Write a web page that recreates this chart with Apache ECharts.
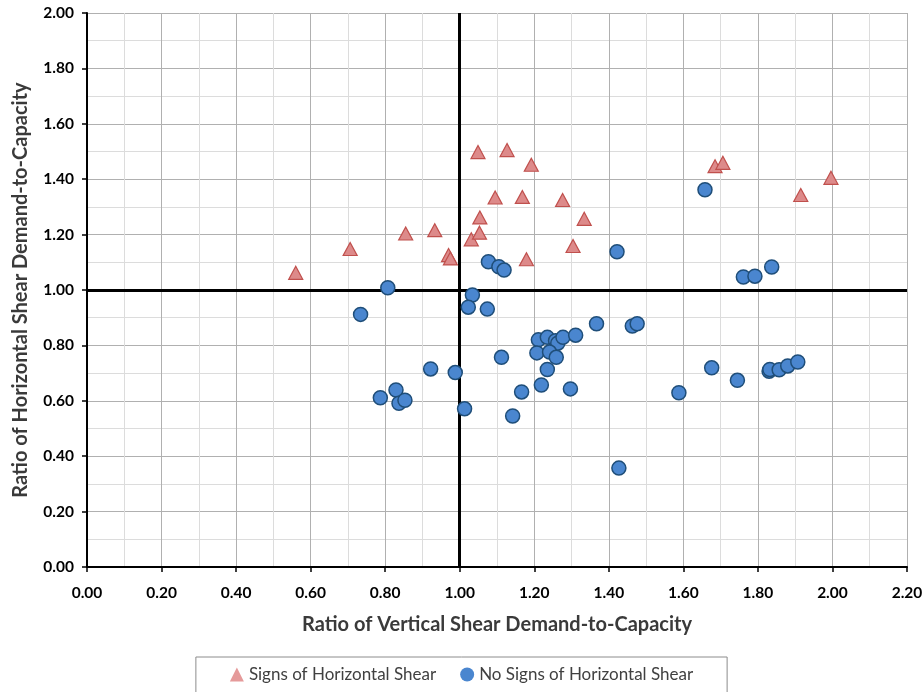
<!DOCTYPE html>
<html>
<head>
<meta charset="utf-8">
<script src="https://cdn.jsdelivr.net/npm/echarts@6/dist/echarts.min.js"></script>
<style>
html,body{margin:0;padding:0;background:#fff;}
#chart{width:923px;height:692px;}
</style>
</head>
<body>
<div id="chart"></div>
<script>
const xAxisTitle = 'Ratio of Vertical Shear Demand-to-Capacity';
const yAxisTitle = 'Ratio of Horizontal Shear Demand-to-Capacity';
const seriesNames = ['Signs of Horizontal Shear', 'No Signs of Horizontal Shear'];

const signsX = [0.560, 0.706, 0.855, 0.933, 0.970, 0.975, 1.031, 1.053, 1.054, 1.049, 1.127, 1.192, 1.095, 1.168, 1.276, 1.334, 1.304, 1.179, 1.685, 1.706, 1.915, 1.996];
const signsY = [1.062, 1.148, 1.204, 1.216, 1.126, 1.114, 1.183, 1.207, 1.262, 1.498, 1.505, 1.452, 1.334, 1.336, 1.325, 1.257, 1.159, 1.111, 1.447, 1.459, 1.343, 1.405];

const noSignsX = [1.658, 1.422, 1.761, 1.792, 1.837, 1.077, 1.105, 1.119, 0.807, 0.734, 1.034, 1.023, 1.074, 1.367, 1.463, 1.476, 1.211, 1.235, 1.257, 1.263, 1.277, 1.311, 1.207, 1.241, 1.259, 1.112, 1.235, 1.219, 1.166, 1.297, 1.142, 1.013, 0.988, 0.922, 0.829, 0.787, 0.837, 0.853, 1.427, 1.588, 1.676, 1.745, 1.830, 1.832, 1.857, 1.880, 1.907];
const noSignsY = [1.362, 1.138, 1.047, 1.050, 1.083, 1.102, 1.084, 1.072, 1.008, 0.912, 0.982, 0.938, 0.931, 0.878, 0.870, 0.878, 0.820, 0.829, 0.817, 0.808, 0.829, 0.837, 0.773, 0.776, 0.757, 0.757, 0.713, 0.657, 0.632, 0.643, 0.545, 0.571, 0.702, 0.715, 0.639, 0.611, 0.591, 0.602, 0.357, 0.629, 0.719, 0.674, 0.707, 0.713, 0.712, 0.726, 0.740];

const refX = 1.0;
const refY = 1.0;

const zip = (a, b) => a.map((v, i) => [v, b[i]]);

const chart = echarts.init(document.getElementById('chart'), null, {renderer: 'canvas'});
const font = 'Lato, "Open Sans", sans-serif';

chart.setOption({
  animation: false,
  backgroundColor: '#fff',
  textStyle: {fontFamily: font},
  grid: {left: 87, right: 16, top: 13, bottom: 125, containLabel: false, outerBoundsMode: 'none'},
  xAxis: {
    type: 'value', min: 0, max: 2.2, interval: 0.2,
    name: xAxisTitle, nameLocation: 'middle', nameGap: 48,
    nameTextStyle: {fontSize: 20, fontWeight: 'bold', color: '#3a3a3a', fontFamily: font},
    axisLine: {onZero: false, lineStyle: {color: '#000', width: 2}},
    axisTick: {show: true, length: 5, lineStyle: {color: '#000', width: 1.5}},
    axisLabel: {fontSize: 15.5, fontWeight: 'bold', color: '#000', margin: 18, formatter: v => v.toFixed(2)},
    splitLine: {show: true, lineStyle: {color: '#b0b0b0', width: 1}},
    minorTick: {show: false, splitNumber: 2},
    minorSplitLine: {show: true, lineStyle: {color: '#dcdcdc', width: 1}}
  },
  yAxis: {
    type: 'value', min: 0, max: 2.0, interval: 0.2,
    name: yAxisTitle, nameLocation: 'middle', nameGap: 56, nameRotate: 90,
    nameTextStyle: {fontSize: 20, fontWeight: 'bold', color: '#3a3a3a', fontFamily: font},
    axisLine: {onZero: false, lineStyle: {color: '#000', width: 2}},
    axisTick: {show: true, length: 5, lineStyle: {color: '#000', width: 1.5}},
    axisLabel: {fontSize: 15.5, fontWeight: 'bold', color: '#000', margin: 13, formatter: v => v.toFixed(2)},
    splitLine: {show: true, lineStyle: {color: '#b0b0b0', width: 1}},
    minorTick: {show: false, splitNumber: 2},
    minorSplitLine: {show: true, lineStyle: {color: '#dcdcdc', width: 1}}
  },
  legend: {
    show: true,
    bottom: -4, left: 'center',
    itemWidth: 14, itemHeight: 14, itemGap: 24,
    padding: [9, 34, 13, 34],
    borderColor: '#8c8c8c', borderWidth: 1,
    textStyle: {fontSize: 17, color: '#404040', fontFamily: font},
    data: [
      {name: seriesNames[0], icon: 'triangle', itemStyle: {color: '#e59a9a', borderWidth: 0}},
      {name: seriesNames[1], icon: 'circle', itemStyle: {color: '#4a86cf', borderWidth: 0}}
    ]
  },
  series: [
    {
      name: seriesNames[0], type: 'scatter', symbol: 'triangle', symbolSize: [14, 13],
      itemStyle: {color: '#dd8a8a', borderColor: '#c0504d', borderWidth: 1.2, opacity: 1},
      data: zip(signsX, signsY),
      z: 3
    },
    {
      name: seriesNames[1], type: 'scatter', symbol: 'circle', symbolSize: 14,
      itemStyle: {color: '#4a86cf', borderColor: '#1f4e79', borderWidth: 1.5, opacity: 1},
      data: zip(noSignsX, noSignsY),
      z: 3,
      markLine: {
        silent: true, symbol: 'none', animation: false,
        label: {show: false},
        lineStyle: {color: '#000', width: 3, type: 'solid'},
        z: 2,
        data: [{xAxis: refX}, {yAxis: refY}]
      }
    }
  ]
});
</script>
</body>
</html>
